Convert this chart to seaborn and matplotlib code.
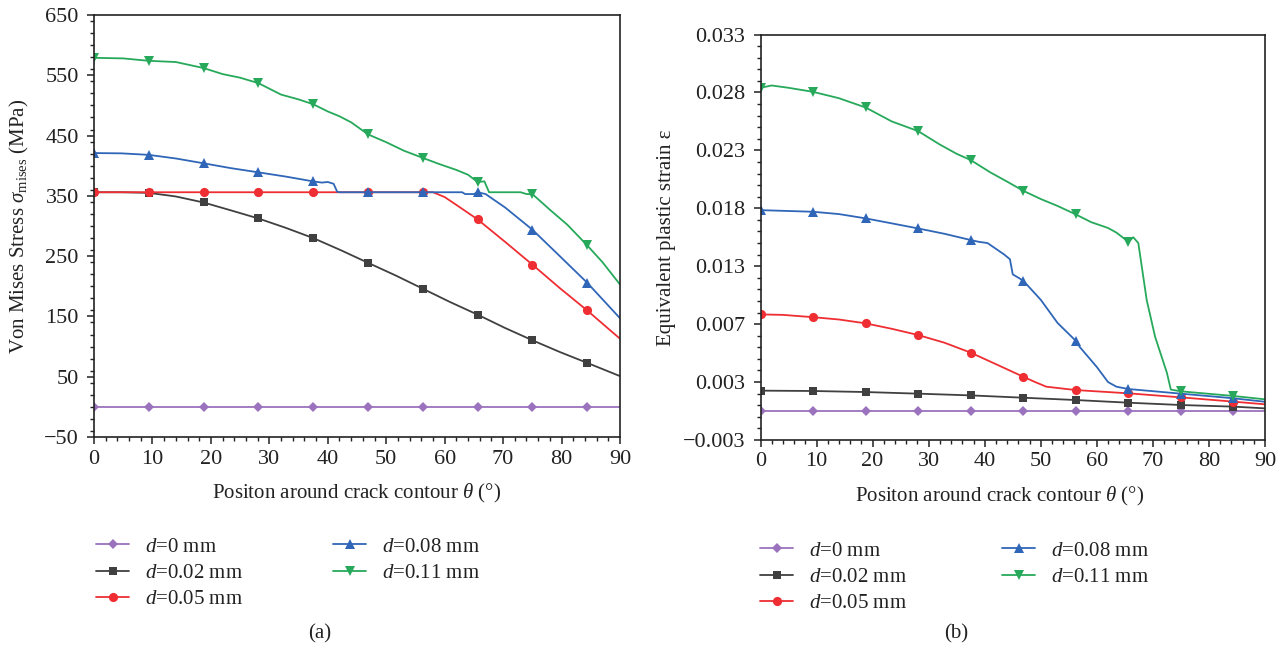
import numpy as np
import matplotlib
matplotlib.use("Agg")
import matplotlib.pyplot as plt
from matplotlib.ticker import MultipleLocator, FixedLocator
import seaborn as sns

sns.set_style("ticks")
plt.rcParams['font.family'] = ['Liberation Serif', 'DejaVu Serif']
plt.rcParams['mathtext.fontset'] = 'custom'
plt.rcParams['mathtext.rm'] = 'Liberation Serif'
plt.rcParams['mathtext.it'] = 'Liberation Serif:italic'
plt.rcParams['mathtext.bf'] = 'Liberation Serif:bold'

# ---------------- data ----------------
series_labels = ["$d$=0 mm", "$d$=0.02 mm", "$d$=0.05 mm", "$d$=0.08 mm", "$d$=0.11 mm"]
series_colors = ["#9b72bd", "#404040", "#ee2e33", "#2f66b8", "#26a95a"]
series_markers = ["D", "s", "o", "^", "v"]
marker_theta = [0, 9.375, 18.75, 28.125, 37.5, 46.875, 56.25, 65.625, 75, 84.375]

# (a) Von Mises stress (MPa)
sa_theta_d0 = [0, 9.375, 18.75, 28.125, 37.5, 46.875, 56.25, 65.625, 75, 84.375, 90]
sa_val_d0 = [0, 0, 0, 0, 0, 0, 0, 0, 0, 0, 0]
sa_theta_d002 = [0, 4.7, 9.375, 14, 18.75, 23.4, 28.125, 32.8, 37.5, 42.2, 46.875, 51.6,
                 56.25, 60.9, 65.625, 70.3, 75, 79.7, 84.375, 90]
sa_val_d002 = [356, 356, 355, 349, 339, 326, 312.5, 297, 280, 260, 239, 218,
               196, 174, 153, 131, 110.5, 91, 73, 51]
sa_theta_d005 = [0, 9.375, 18.75, 28.125, 37.5, 46.875, 56.25, 58, 60, 62, 65.625, 70.3,
                 75, 79.7, 84.375, 90]
sa_val_d005 = [356, 356, 356, 356, 356, 356, 356, 356, 348, 335, 311, 274,
               236, 197, 160, 113]
sa_theta_d008 = [0, 4.7, 9.375, 14, 18.75, 23.4, 28.125, 32.8, 37.5, 39, 40, 41, 41.6, 42,
                 46.875, 56.25, 63, 63.5, 65, 65.625, 67, 70.3, 75, 79.7, 84.375, 90]
sa_val_d008 = [421, 420.5, 418, 412, 404, 396, 389, 382, 374, 372, 373, 370, 357, 356,
               356, 356, 356, 353, 353, 356, 353, 331, 294, 250, 206, 147]
sa_theta_d011 = [0, 5, 9.375, 14, 18.75, 22, 25, 28.125, 32, 35, 37.5, 40, 42, 44, 46.875,
                 50, 53, 56.25, 59, 62, 64, 65.625, 66.8, 67.6, 73, 74, 75, 78, 81, 84.375,
                 87, 90]
sa_val_d011 = [579, 578, 574, 572, 562, 552, 546, 537, 518, 510, 502, 490, 482, 472, 452,
               439, 425, 413, 403, 393, 385, 373, 374, 356, 356, 353, 353, 327, 302, 268,
               240, 203]

# (b) Equivalent plastic strain
sb_theta_d0 = [0, 9.375, 18.75, 28.125, 37.5, 46.875, 56.25, 65.625, 75, 84.375, 90]
sb_val_d0 = [0, 0, 0, 0, 0, 0, 0, 0, 0, 0, 0]
sb_theta_d002 = [0, 9.375, 18.75, 28.125, 37.5, 46.875, 56.25, 65.625, 75, 84.375, 90]
sb_val_d002 = [0.00176, 0.00173, 0.00164, 0.00150, 0.00135, 0.00115, 0.00095, 0.00072,
               0.00052, 0.00038, 0.00023]
sb_theta_d005 = [0, 4, 9.375, 14, 18.75, 23.4, 28.125, 32.8, 37.5, 42.2, 46.875, 49, 51,
                 56.25, 65.625, 75, 84.375, 90]
sb_val_d005 = [0.00834, 0.00830, 0.00810, 0.00790, 0.00757, 0.00710, 0.00656, 0.00590,
               0.00504, 0.00400, 0.00296, 0.00250, 0.00210, 0.00181, 0.00153, 0.00118,
               0.00081, 0.00058]
sb_theta_d008 = [0, 9.375, 14, 18.75, 23.4, 28.125, 32.8, 37.5, 39, 40.5, 42, 43.5, 44.5,
                 45, 46.875, 50, 53, 56.25, 57, 60, 62, 63.5, 65.625, 75, 84.375, 90]
sb_val_d008 = [0.01734, 0.01720, 0.01700, 0.01663, 0.01620, 0.01576, 0.01530, 0.01476,
               0.01460, 0.01450, 0.01400, 0.01350, 0.01310, 0.01180, 0.01125, 0.00960,
               0.00760, 0.00606, 0.00550, 0.00380, 0.00250, 0.00210, 0.00190, 0.00150,
               0.00110, 0.00080]
sb_theta_d011 = [0, 2, 5, 9.375, 14, 18.75, 23.4, 28.125, 32, 35, 37.5, 41, 44, 46.875,
                 50, 53, 56.25, 59, 62, 63.5, 65.625, 66.5, 67.4, 68.9, 70.4, 72.5, 73.2,
                 75, 84.375, 90]
sb_val_d011 = [0.02790, 0.02810, 0.02790, 0.02755, 0.02700, 0.02620, 0.02500, 0.02416,
               0.02300, 0.02220, 0.02166, 0.02060, 0.01980, 0.01901, 0.01830, 0.01770,
               0.01697, 0.01630, 0.01580, 0.01540, 0.01461, 0.01500, 0.01450, 0.00957,
               0.00640, 0.00330, 0.00185, 0.00170, 0.00130, 0.00101]

a_thetas = [sa_theta_d0, sa_theta_d002, sa_theta_d005, sa_theta_d008, sa_theta_d011]
a_vals = [sa_val_d0, sa_val_d002, sa_val_d005, sa_val_d008, sa_val_d011]
b_thetas = [sb_theta_d0, sb_theta_d002, sb_theta_d005, sb_theta_d008, sb_theta_d011]
b_vals = [sb_val_d0, sb_val_d002, sb_val_d005, sb_val_d008, sb_val_d011]

a_yticks = [-50, 50, 150, 250, 350, 450, 550, 650]
b_yticks = [-0.0025, 0.0025, 0.0075, 0.0125, 0.0175, 0.0225, 0.0275, 0.0325]
b_yticklabels = ["\u22120.003", "0.003", "0.007", "0.013", "0.018", "0.023", "0.028", "0.033"]
x_ticks = [0, 10, 20, 30, 40, 50, 60, 70, 80, 90]

xlabel = r"Positon around crack contour $\theta$ (°)"
a_ylabel = r"Von Mises Stress $\sigma_{\mathrm{mises}}$ (MPa)"
b_ylabel = "Equivalent plastic strain \u03b5"

# ---------------- figure ----------------
W, H = 1287, 654
fig = plt.figure(figsize=(W / 100, H / 100), dpi=100)

def frac_rect(l, t, r, b):
    return [l / W, 1 - b / H, (r - l) / W, (b - t) / H]

axA = fig.add_axes(frac_rect(94, 15, 620, 437))
axB = fig.add_axes(frac_rect(760.5, 34.5, 1265, 440))

FS = 15
TFS = 16
ms_map = {"D": 5.6, "s": 5.8, "o": 6.6, "^": 7.8, "v": 7.8}

def draw(ax, thetas, vals):
    handles = []
    for th, v, c, m, lab in zip(thetas, vals, series_colors, series_markers, series_labels):
        idx = [i for i, t in enumerate(th) if t in marker_theta]
        sns.lineplot(x=th, y=v, ax=ax, color=c, marker=m, markevery=idx, lw=1.3,
                     ms=ms_map[m], markeredgewidth=0, sort=False, estimator=None,
                     legend=False)
        ln = ax.get_lines()[-1]
        ln.set_label(lab)
        handles.append(ln)
    return handles

hA = draw(axA, a_thetas, a_vals)
hB = draw(axB, b_thetas, b_vals)

for ax in (axA, axB):
    ax.set_xlim(0, 90)
    ax.set_xticks(x_ticks)
    ax.xaxis.set_minor_locator(MultipleLocator(2))
    for s in ax.spines.values():
        s.set_visible(True)
        s.set_color("#222222")
        s.set_linewidth(1.2)
    ax.tick_params(axis="both", which="major", direction="out", length=5, width=1.1,
                   labelsize=TFS, colors="#222222", top=False, right=False)
    ax.tick_params(axis="y", which="major", pad=6)
    ax.tick_params(axis="x", which="major", pad=4)
    ax.tick_params(axis="both", which="minor", direction="out", length=3, width=1.0,
                   colors="#222222", top=False, right=False)
    ax.set_xlabel(xlabel, fontsize=FS, color="#222222")

axA.set_ylim(-50, 650)
axA.set_yticks(a_yticks)
axA.yaxis.set_minor_locator(MultipleLocator(20))
axA.set_ylabel(a_ylabel, fontsize=FS, color="#222222", va="center")
axA.yaxis.set_label_coords((19 - 94) / 526, 0.5)
axA.xaxis.set_label_coords(0.5, (437 - 482) / 422)

axB.set_ylim(-0.0025, 0.0325)
axB.set_yticks(b_yticks)
axB.set_yticklabels(b_yticklabels)
axB.yaxis.set_minor_locator(FixedLocator(list(np.arange(-0.0025, 0.0326, 0.001))))
axB.set_ylabel(b_ylabel, fontsize=FS, color="#222222", va="center")
axB.yaxis.set_label_coords((666 - 760.5) / 504.5, 0.5)
axB.xaxis.set_label_coords((1000 - 760.5) / 504.5, (440 - 485) / 405.5)

def add_leg(handles, x, y):
    lg = fig.legend(handles=handles, loc="upper left", bbox_to_anchor=(x / W, 1 - y / H),
                    frameon=False, fontsize=FS, borderpad=0, borderaxespad=0,
                    handlelength=1.6, handletextpad=0.75, labelspacing=0.33,
                    labelcolor="#222222")
    return lg

add_leg(hA[:3], 96, 537)
add_leg(hA[3:], 333, 537)
add_leg(hB[:3], 760, 541)
add_leg(hB[3:], 1002, 541)

fig.text(320 / W, 1 - 634 / H, "(a)", ha="center", va="center", fontsize=FS, color="#222222")
fig.text(956 / W, 1 - 634 / H, "(b)", ha="center", va="center", fontsize=FS, color="#222222")

fig.savefig("out.png", dpi=100)
